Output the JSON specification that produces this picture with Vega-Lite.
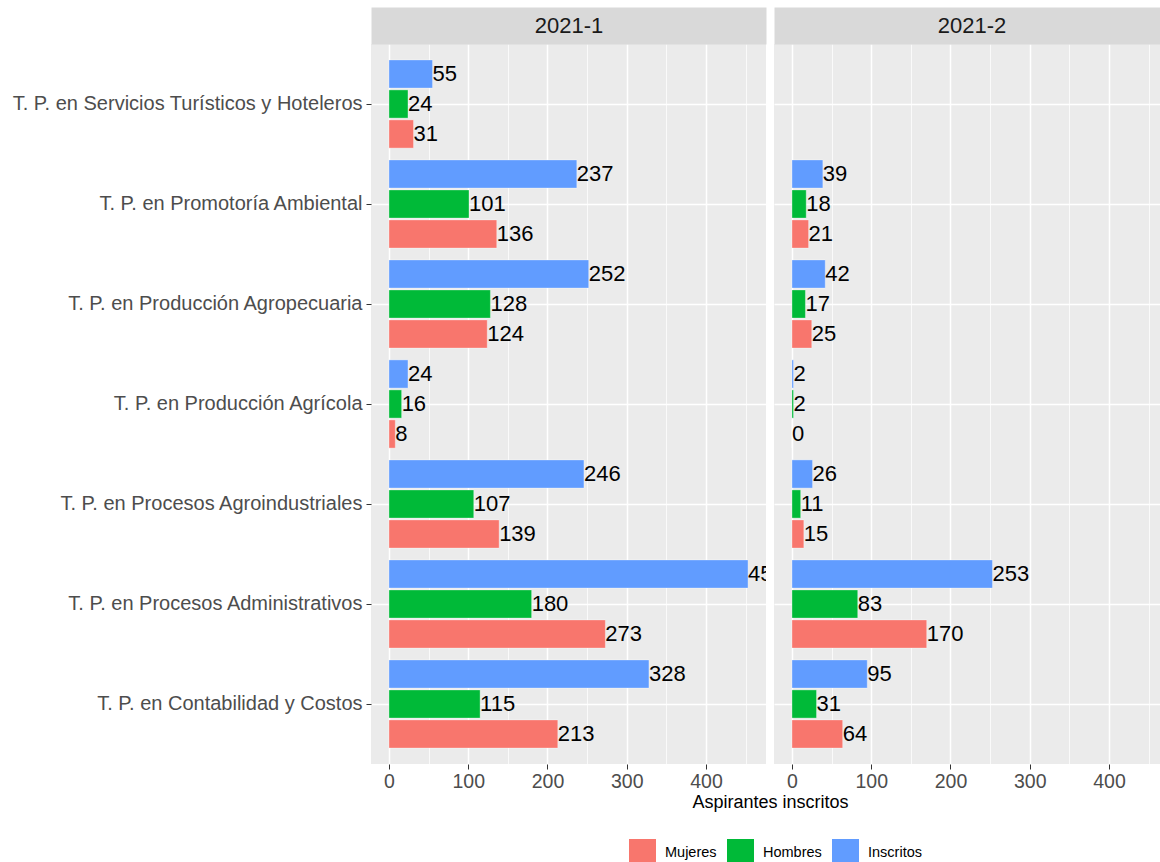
{
  "$schema": "https://vega.github.io/schema/vega-lite/v6.json",
  "padding": {"left": 11, "top": 14, "right": 0, "bottom": 0},
  "background": "white",
  "config": {
    "font": "Liberation Sans",
    "view": {"stroke": null}
  },
  "datasets": {
    "main": [
      {"periodo": "2021-1", "programa": "T. P. en Servicios Turísticos y Hoteleros", "serie": "Inscritos", "valor": 55},
      {"periodo": "2021-1", "programa": "T. P. en Servicios Turísticos y Hoteleros", "serie": "Hombres", "valor": 24},
      {"periodo": "2021-1", "programa": "T. P. en Servicios Turísticos y Hoteleros", "serie": "Mujeres", "valor": 31},
      {"periodo": "2021-1", "programa": "T. P. en Promotoría Ambiental", "serie": "Inscritos", "valor": 237},
      {"periodo": "2021-1", "programa": "T. P. en Promotoría Ambiental", "serie": "Hombres", "valor": 101},
      {"periodo": "2021-1", "programa": "T. P. en Promotoría Ambiental", "serie": "Mujeres", "valor": 136},
      {"periodo": "2021-1", "programa": "T. P. en Producción Agropecuaria", "serie": "Inscritos", "valor": 252},
      {"periodo": "2021-1", "programa": "T. P. en Producción Agropecuaria", "serie": "Hombres", "valor": 128},
      {"periodo": "2021-1", "programa": "T. P. en Producción Agropecuaria", "serie": "Mujeres", "valor": 124},
      {"periodo": "2021-1", "programa": "T. P. en Producción Agrícola", "serie": "Inscritos", "valor": 24},
      {"periodo": "2021-1", "programa": "T. P. en Producción Agrícola", "serie": "Hombres", "valor": 16},
      {"periodo": "2021-1", "programa": "T. P. en Producción Agrícola", "serie": "Mujeres", "valor": 8},
      {"periodo": "2021-1", "programa": "T. P. en Procesos Agroindustriales", "serie": "Inscritos", "valor": 246},
      {"periodo": "2021-1", "programa": "T. P. en Procesos Agroindustriales", "serie": "Hombres", "valor": 107},
      {"periodo": "2021-1", "programa": "T. P. en Procesos Agroindustriales", "serie": "Mujeres", "valor": 139},
      {"periodo": "2021-1", "programa": "T. P. en Procesos Administrativos", "serie": "Inscritos", "valor": 453},
      {"periodo": "2021-1", "programa": "T. P. en Procesos Administrativos", "serie": "Hombres", "valor": 180},
      {"periodo": "2021-1", "programa": "T. P. en Procesos Administrativos", "serie": "Mujeres", "valor": 273},
      {"periodo": "2021-1", "programa": "T. P. en Contabilidad y Costos", "serie": "Inscritos", "valor": 328},
      {"periodo": "2021-1", "programa": "T. P. en Contabilidad y Costos", "serie": "Hombres", "valor": 115},
      {"periodo": "2021-1", "programa": "T. P. en Contabilidad y Costos", "serie": "Mujeres", "valor": 213},
      {"periodo": "2021-2", "programa": "T. P. en Promotoría Ambiental", "serie": "Inscritos", "valor": 39},
      {"periodo": "2021-2", "programa": "T. P. en Promotoría Ambiental", "serie": "Hombres", "valor": 18},
      {"periodo": "2021-2", "programa": "T. P. en Promotoría Ambiental", "serie": "Mujeres", "valor": 21},
      {"periodo": "2021-2", "programa": "T. P. en Producción Agropecuaria", "serie": "Inscritos", "valor": 42},
      {"periodo": "2021-2", "programa": "T. P. en Producción Agropecuaria", "serie": "Hombres", "valor": 17},
      {"periodo": "2021-2", "programa": "T. P. en Producción Agropecuaria", "serie": "Mujeres", "valor": 25},
      {"periodo": "2021-2", "programa": "T. P. en Producción Agrícola", "serie": "Inscritos", "valor": 2},
      {"periodo": "2021-2", "programa": "T. P. en Producción Agrícola", "serie": "Hombres", "valor": 2},
      {"periodo": "2021-2", "programa": "T. P. en Producción Agrícola", "serie": "Mujeres", "valor": 0},
      {"periodo": "2021-2", "programa": "T. P. en Procesos Agroindustriales", "serie": "Inscritos", "valor": 26},
      {"periodo": "2021-2", "programa": "T. P. en Procesos Agroindustriales", "serie": "Hombres", "valor": 11},
      {"periodo": "2021-2", "programa": "T. P. en Procesos Agroindustriales", "serie": "Mujeres", "valor": 15},
      {"periodo": "2021-2", "programa": "T. P. en Procesos Administrativos", "serie": "Inscritos", "valor": 253},
      {"periodo": "2021-2", "programa": "T. P. en Procesos Administrativos", "serie": "Hombres", "valor": 83},
      {"periodo": "2021-2", "programa": "T. P. en Procesos Administrativos", "serie": "Mujeres", "valor": 170},
      {"periodo": "2021-2", "programa": "T. P. en Contabilidad y Costos", "serie": "Inscritos", "valor": 95},
      {"periodo": "2021-2", "programa": "T. P. en Contabilidad y Costos", "serie": "Hombres", "valor": 31},
      {"periodo": "2021-2", "programa": "T. P. en Contabilidad y Costos", "serie": "Mujeres", "valor": 64}
    ]
  },
  "bounds": "flush",
  "spacing": 8,
  "hconcat": [
    {
      "data": {"name": "main"},
      "transform": [{"filter": "datum.periodo === '2021-1'"}],
      "width": 395,
      "height": 720,
      "view": {"fill": "#EBEBEB", "stroke": null},
      "resolve": {"axis": {"x": "independent"}},
      "encoding": {
        "y": {
          "field": "programa", "type": "nominal",
          "scale": {
            "domain": ["T. P. en Servicios Turísticos y Hoteleros", "T. P. en Promotoría Ambiental", "T. P. en Producción Agropecuaria", "T. P. en Producción Agrícola", "T. P. en Procesos Agroindustriales", "T. P. en Procesos Administrativos", "T. P. en Contabilidad y Costos"],
            "paddingInner": 0.1, "paddingOuter": 0.15
          },
          "axis": {
            "title": null, "domain": false, "bandPosition": 0.5,
            "grid": true, "gridColor": "#FFFFFF", "gridWidth": 1.5,
            "ticks": true, "tickColor": "#333333", "tickSize": 5, "tickWidth": 1,
            "labelFontSize": 20, "labelColor": "#4D4D4D", "labelPadding": 4, "labelLimit": 0
          }
        },
        "yOffset": {
          "field": "serie", "type": "nominal",
          "scale": {"domain": ["Inscritos", "Hombres", "Mujeres"], "paddingInner": 0.06, "paddingOuter": 0.03}
        }
      },
      "layer": [
        {
          "mark": {"type": "bar", "stroke": "#FFFFFF", "strokeOpacity": 0.35, "strokeWidth": 1},
          "encoding": {
            "x": {
              "field": "valor", "type": "quantitative",
              "scale": {"domain": [-22.65, 475.65], "nice": false, "zero": false},
              "axis": {
                "values": [0, 50, 100, 150, 200, 250, 300, 350, 400, 450],
                "labelExpr": "datum.value % 100 === 0 ? datum.label : ''",
                "domain": false,
                "grid": true, "gridColor": "#FFFFFF",
                "gridWidth": {"condition": {"test": "datum.value % 100 === 0", "value": 1.5}, "value": 0.75},
                "tickColor": "#333333", "tickSize": 5,
                "tickOpacity": {"condition": {"test": "datum.value % 100 === 0", "value": 1}, "value": 0},
                "labelFontSize": 19.5, "labelColor": "#4D4D4D", "labelPadding": 3,
                "title": "Aspirantes inscritos", "titleFontSize": 18, "titleFontWeight": "normal",
                "titleColor": "#000000", "titleX": 399, "titleAlign": "center", "titlePadding": 3
              }
            },
            "color": {
              "field": "serie", "type": "nominal",
              "scale": {"domain": ["Mujeres", "Hombres", "Inscritos"], "range": ["#F8766D", "#00BA38", "#619CFF"]},
              "legend": {
                "title": null, "orient": "none", "direction": "horizontal",
                "legendX": 258, "legendY": 795, "padding": 0,
                "symbolType": "square", "symbolSize": 729, "symbolStrokeWidth": 0, "symbolOpacity": 1,
                "labelFontSize": 14.5, "labelColor": "#000000", "labelOffset": 9, "columnPadding": 10
              }
            }
          }
        },
        {
          "mark": {"type": "text", "align": "left", "baseline": "middle", "fontSize": 22, "color": "#000000", "clip": true, "dx": 0},
          "encoding": {
            "x": {
              "field": "valor", "type": "quantitative",
              "axis": {
                "orient": "top", "grid": false, "ticks": false, "labels": false,
                "domain": true, "domainColor": "#D9D9D9", "domainWidth": 37, "domainCap": "butt", "offset": 18.5,
                "title": "2021-1", "titleFontSize": 22, "titleFontWeight": "normal", "titleColor": "#1A1A1A",
                "titleBaseline": "middle", "titlePadding": 0
              }
            },
            "text": {"field": "valor", "type": "quantitative"}
          }
        }
      ]
    },
    {
      "data": {"name": "main"},
      "transform": [{"filter": "datum.periodo === '2021-2'"}],
      "width": 395,
      "height": 720,
      "view": {"fill": "#EBEBEB", "stroke": null},
      "resolve": {"axis": {"x": "independent"}},
      "encoding": {
        "y": {
          "field": "programa", "type": "nominal",
          "scale": {
            "domain": ["T. P. en Servicios Turísticos y Hoteleros", "T. P. en Promotoría Ambiental", "T. P. en Producción Agropecuaria", "T. P. en Producción Agrícola", "T. P. en Procesos Agroindustriales", "T. P. en Procesos Administrativos", "T. P. en Contabilidad y Costos"],
            "paddingInner": 0.1, "paddingOuter": 0.15
          },
          "axis": {
            "title": null, "domain": false, "bandPosition": 0.5,
            "grid": true, "gridColor": "#FFFFFF", "gridWidth": 1.5,
            "ticks": false, "labels": false
          }
        },
        "yOffset": {
          "field": "serie", "type": "nominal",
          "scale": {"domain": ["Inscritos", "Hombres", "Mujeres"], "paddingInner": 0.06, "paddingOuter": 0.03}
        }
      },
      "layer": [
        {
          "mark": {"type": "bar", "stroke": "#FFFFFF", "strokeOpacity": 0.35, "strokeWidth": 1},
          "encoding": {
            "x": {
              "field": "valor", "type": "quantitative",
              "scale": {"domain": [-22.65, 475.65], "nice": false, "zero": false},
              "axis": {
                "values": [0, 50, 100, 150, 200, 250, 300, 350, 400, 450],
                "labelExpr": "datum.value % 100 === 0 ? datum.label : ''",
                "domain": false,
                "grid": true, "gridColor": "#FFFFFF",
                "gridWidth": {"condition": {"test": "datum.value % 100 === 0", "value": 1.5}, "value": 0.75},
                "tickColor": "#333333", "tickSize": 5,
                "tickOpacity": {"condition": {"test": "datum.value % 100 === 0", "value": 1}, "value": 0},
                "labelFontSize": 19.5, "labelColor": "#4D4D4D", "labelPadding": 3,
                "title": null
              }
            },
            "color": {
              "field": "serie", "type": "nominal",
              "scale": {"domain": ["Mujeres", "Hombres", "Inscritos"], "range": ["#F8766D", "#00BA38", "#619CFF"]}
            }
          }
        },
        {
          "mark": {"type": "text", "align": "left", "baseline": "middle", "fontSize": 22, "color": "#000000", "clip": true, "dx": 0},
          "encoding": {
            "x": {
              "field": "valor", "type": "quantitative",
              "axis": {
                "orient": "top", "grid": false, "ticks": false, "labels": false,
                "domain": true, "domainColor": "#D9D9D9", "domainWidth": 37, "domainCap": "butt", "offset": 18.5,
                "title": "2021-2", "titleFontSize": 22, "titleFontWeight": "normal", "titleColor": "#1A1A1A",
                "titleBaseline": "middle", "titlePadding": 0
              }
            },
            "text": {"field": "valor", "type": "quantitative"}
          }
        }
      ]
    }
  ]
}
